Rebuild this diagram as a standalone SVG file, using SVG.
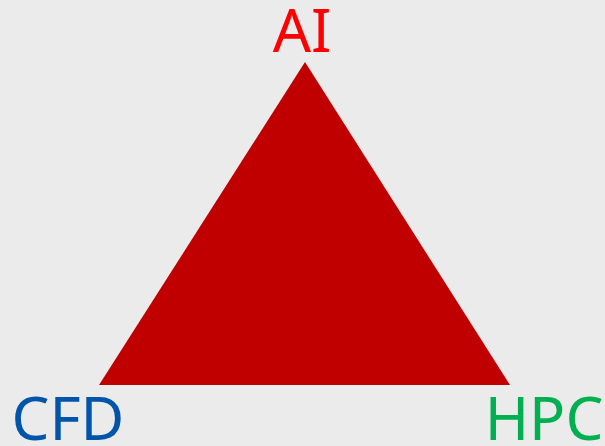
<svg xmlns="http://www.w3.org/2000/svg" width="605" height="446" viewBox="0 0 605 446">
<style>
.lbl{font-family:"Noto Sans","Open Sans","DejaVu Sans",sans-serif;font-size:60px;text-anchor:middle}
</style>
<rect width="605" height="446" fill="#EBEBEB"/>
<g id="triangle"><polygon points="305,62 99,385 510,385" fill="#C00000"/></g>
<g id="ai"><text class="lbl" x="302" y="52" fill="#FF0000">AI</text></g>
<g id="cfd"><text class="lbl" x="68" y="440" fill="#0055AA">CFD</text></g>
<g id="hpc"><text class="lbl" x="544" y="440" fill="#00B050">HPC</text></g>
<g id="connectors"></g>
</svg>
